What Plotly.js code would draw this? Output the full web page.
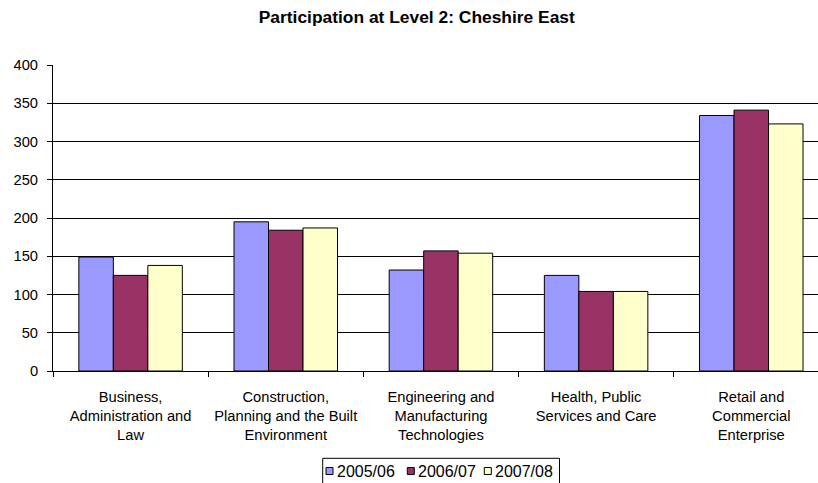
<!DOCTYPE html>
<html>
<head>
<meta charset="utf-8">
<script src="https://cdn.plot.ly/plotly-3.0.1.min.js"></script>
<style>html,body{margin:0;padding:0;background:#fff;}#chart{width:818px;height:483px;}</style>
</head>
<body>
<div id="chart"></div>
<script>
var categories = [
  "Business,<br>Administration and<br>Law",
  "Construction,<br>Planning and the Built<br>Environment",
  "Engineering and<br>Manufacturing<br>Technologies",
  "Health, Public<br>Services and Care",
  "Retail and<br>Commercial<br>Enterprise"
];
var seriesNames = ["2005/06", "2006/07", "2007/08"];
var values0506 = [149, 195, 132, 125, 334];
var values0607 = [125, 184, 157, 104, 341];
var values0708 = [138, 187, 154, 104, 323];
var colors = ["#9999FF", "#993366", "#FFFFCC"];
var yTicks = [0, 50, 100, 150, 200, 250, 300, 350, 400];

var allValues = [values0506, values0607, values0708];
var traces = allValues.map(function(v, i) {
  return {
    type: "bar",
    name: seriesNames[i],
    x: categories,
    y: v,
    showlegend: false,
    marker: {color: colors[i], line: {color: "#000000", width: 1}}
  };
});

var W = 818, H = 483;
var M = {l: 53, r: 0, t: 65, b: 112};
var plotW = W - M.l - M.r, plotH = H - M.t - M.b;
function px(x) { return (x - M.l) / plotW; }
function py(y) { return (H - M.b - y) / plotH; }

var family = "Arial, 'Liberation Sans', sans-serif";
var font = {family: family, size: 14.7, color: "#000"};

// Legend drawn as a boxed key under the plot
var legendBox = {x0: 322.7, x1: 559.5, y0: 458.3, y1: 495};
var keyLeft = [326, 407.3, 484.3];
var keySize = 7, keyMid = 471;
var shapes = [{
  type: "rect", xref: "paper", yref: "paper",
  x0: px(legendBox.x0), x1: px(legendBox.x1), y0: py(legendBox.y1), y1: py(legendBox.y0),
  line: {color: "#000", width: 1}, fillcolor: "#fff", layer: "above"
}];
var annotations = [];
seriesNames.forEach(function(name, i) {
  shapes.push({
    type: "rect", xref: "paper", yref: "paper",
    x0: px(keyLeft[i]), x1: px(keyLeft[i] + keySize),
    y0: py(keyMid + keySize / 2), y1: py(keyMid - keySize / 2),
    line: {color: "#000", width: 1}, fillcolor: colors[i], layer: "above"
  });
  annotations.push({
    xref: "paper", yref: "paper", x: px(keyLeft[i] + keySize + 2), y: py(keyMid),
    xanchor: "left", yanchor: "middle", showarrow: false,
    text: name, font: {family: family, size: 16, color: "#000"}
  });
});

var layout = {
  width: W, height: H,
  margin: {l: M.l, r: M.r, t: M.t, b: M.b, pad: 0},
  paper_bgcolor: "#fff", plot_bgcolor: "#fff",
  font: font,
  title: {
    text: "<b>Participation at Level 2: Cheshire East</b>",
    font: {family: family, size: 17.4, color: "#000"},
    xref: "container", x: 416.8 / W, xanchor: "center",
    yref: "container", y: 1 - 16.5 / H, yanchor: "middle"
  },
  barmode: "group",
  bargap: 0.333, bargroupgap: 0,
  showlegend: false,
  shapes: shapes,
  annotations: annotations,
  xaxis: {
    type: "category",
    range: [-0.5, 4.43],
    tickson: "boundaries",
    ticks: "outside", ticklen: 5, tickcolor: "#000",
    showline: true, linecolor: "#000", linewidth: 1,
    showgrid: false, zeroline: false,
    tickfont: font, automargin: false, tickangle: 0,
    ticklabelstandoff: 12
  },
  yaxis: {
    range: [0, 400],
    tickvals: yTicks,
    ticks: "outside", ticklen: 5, tickcolor: "#000",
    showline: true, linecolor: "#000", linewidth: 1,
    showgrid: true, gridcolor: "#000", gridwidth: 1,
    zeroline: false, tickfont: font, automargin: false,
    ticklabelstandoff: 6
  }
};
Plotly.newPlot("chart", traces, layout, {displayModeBar: false, staticPlot: true});
</script>
</body>
</html>
